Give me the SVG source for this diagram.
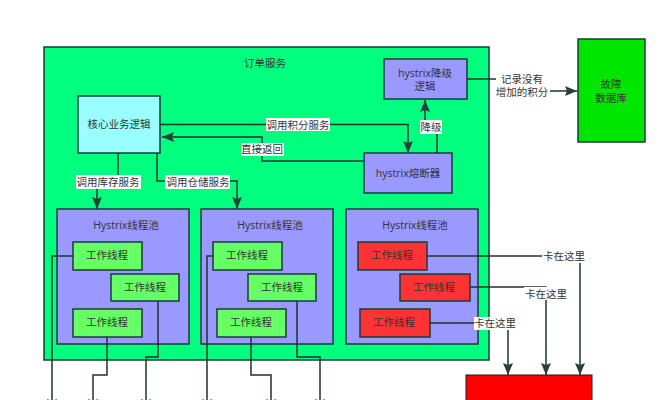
<svg xmlns="http://www.w3.org/2000/svg" width="671" height="400" viewBox="0 0 671 400">
<style>
text{font-family:"Open Sans","Noto Sans CJK SC",sans-serif;font-size:10.5px;fill:#333;text-anchor:middle;dominant-baseline:central}
.b{stroke:#1d3a3a;stroke-width:1.5}
.c{fill:none;stroke:#1f3330;stroke-width:1.5}
.a{marker-end:url(#ah)}
.pool{fill:#9999ff}.w{fill:#66ff66}.r{fill:#ff3333}
.lb{fill:#fff}
</style>
<defs>
<marker id="ah" markerUnits="userSpaceOnUse" markerWidth="13" markerHeight="12" refX="12" refY="5" orient="auto"><path d="M0 0L12 5L0 10L2 5Z" fill="#24403a"/></marker>
</defs>
<rect width="671" height="400" fill="#fff"/>
<g id="order-service"><rect class="b" x="44" y="47" width="445" height="313" fill="#00ff7f"/><text x="265" y="63">订单服务</text></g>
<g id="core"><rect class="b" x="78" y="96" width="82" height="57" fill="#99ffff"/><text x="119" y="124">核心业务逻辑</text></g>
<g id="fallback"><rect class="b pool" x="384" y="59" width="83" height="40"/><text x="425" y="73">hystrix降级</text><text x="425" y="86">逻辑</text></g>
<g id="breaker"><rect class="b pool" x="364" y="153" width="88" height="40"/><text x="408" y="173">hystrix熔断器</text></g>
<g id="db"><rect class="b" x="578" y="39" width="67" height="103" fill="#00e600"/><text x="611" y="84">故障</text><text x="611" y="98">数据库</text></g>
<g id="pool1"><rect class="b pool" x="57" y="209" width="132" height="135"/><text x="126" y="225">Hystrix线程池</text></g>
<g id="pool2"><rect class="b pool" x="201" y="209" width="132" height="135"/><text x="270" y="225">Hystrix线程池</text></g>
<g id="pool3"><rect class="b pool" x="346" y="209" width="132" height="135"/><text x="415" y="225">Hystrix线程池</text></g>
<g id="w11"><rect class="b w" x="73" y="242" width="69" height="28"/><text x="107" y="255">工作线程</text></g>
<g id="w12"><rect class="b w" x="111" y="274" width="68" height="27"/><text x="145" y="287">工作线程</text></g>
<g id="w13"><rect class="b w" x="73" y="309" width="69" height="28"/><text x="107" y="322">工作线程</text></g>
<g id="w21"><rect class="b w" x="213" y="242" width="69" height="28"/><text x="247" y="255">工作线程</text></g>
<g id="w22"><rect class="b w" x="248" y="274" width="68" height="27"/><text x="282" y="287">工作线程</text></g>
<g id="w23"><rect class="b w" x="217" y="309" width="69" height="28"/><text x="251" y="322">工作线程</text></g>
<g id="w31"><rect class="b r" x="358" y="242" width="69" height="28"/><text x="392" y="255">工作线程</text></g>
<g id="w32"><rect class="b r" x="400" y="274" width="70" height="27"/><text x="434" y="287">工作线程</text></g>
<g id="w33"><rect class="b r" x="360" y="309" width="70" height="28"/><text x="394" y="322">工作线程</text></g>
<g id="stuck"><rect x="466" y="375" width="126" height="30" fill="#ff0000" stroke="#1d1d1d" stroke-width="1"/></g>
<g id="connectors">
<path class="c a" d="M160 124.500H408V153"/>
<path class="c a" d="M364 161H262V137H162"/>
<path class="c a" d="M437 153V127H425V100"/>
<path class="c a" d="M467 79H522V91H577"/>
<path class="c a" d="M118 153V182H97V209"/>
<path class="c a" d="M157 153V181H237V209"/>
<path class="c a" d="M73 256H52V411"/>
<path class="c a" d="M158 301V357H146V411"/>
<path class="c a" d="M107 337V375H93V411"/>
<path class="c a" d="M213 256H207V411"/>
<path class="c a" d="M297 301V357H320V411"/>
<path class="c a" d="M251 337V375H271V411"/>
<path class="c a" d="M427 256H580V375"/>
<path class="c a" d="M470 287H546V375"/>
<path class="c a" d="M430 323H508V375"/>
</g>
<g id="labels">
<rect class="lb" x="266" y="118" width="64" height="13"/><text x="298" y="124.500">调用积分服务</text>
<rect class="lb" x="241" y="143" width="43" height="13"/><text x="262" y="149">直接返回</text>
<rect class="lb" x="76" y="175" width="65" height="14"/><text x="108" y="182">调用库存服务</text>
<rect class="lb" x="165" y="175" width="65" height="14"/><text x="198" y="182">调用仓储服务</text>
<rect class="lb" x="420" y="120" width="22" height="14"/><text x="431" y="127">降级</text>
<rect class="lb" x="496" y="71" width="54" height="30"/><text x="522" y="79">记录没有</text><text x="522" y="92">增加的积分</text>
<rect class="lb" x="542" y="250" width="44" height="13"/><text x="564" y="256">卡在这里</text>
<rect class="lb" x="524" y="287" width="44" height="13"/><text x="546" y="294">卡在这里</text>
<rect class="lb" x="474" y="317" width="43" height="13"/><text x="495" y="323">卡在这里</text>
</g>
</svg>
